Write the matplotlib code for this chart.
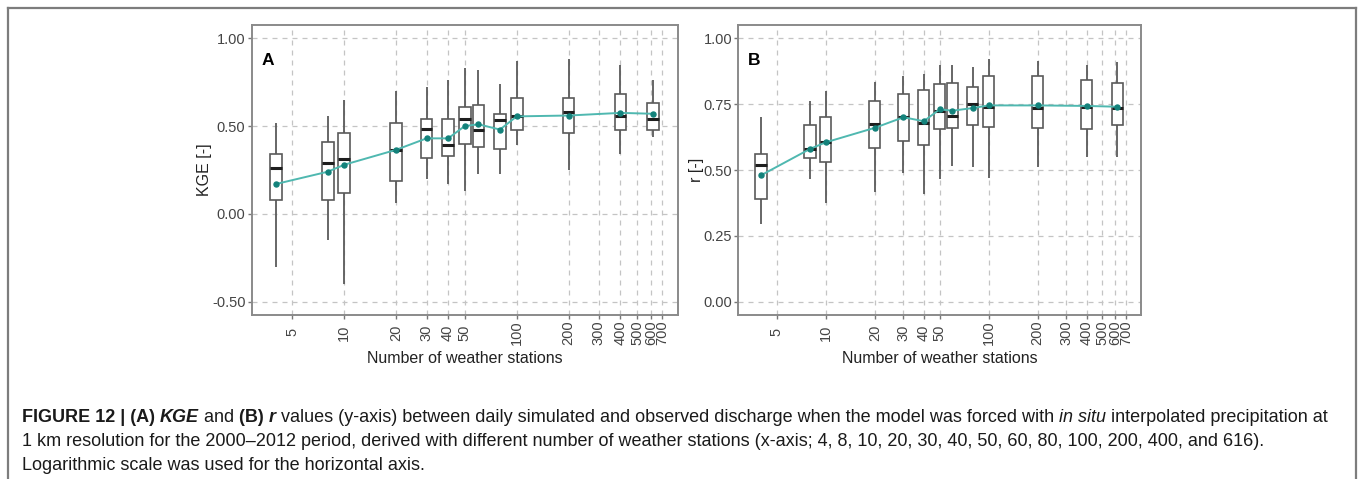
import numpy as np
import matplotlib
matplotlib.use("Agg")
from matplotlib import pyplot as plt
from matplotlib.lines import Line2D

plt.rcParams['font.family'] = ['Liberation Sans', 'DejaVu Sans']

# number of weather stations used for each run
stations = [4, 8, 10, 20, 30, 40, 50, 60, 80, 100, 200, 400, 616]

# KGE distribution per run: whisker ends, quartiles, median and mean
kge_lo   = [-0.30, -0.15, -0.40, 0.06, 0.20, 0.17, 0.13, 0.23, 0.23, 0.39, 0.25, 0.34, 0.44]
kge_q1   = [0.08, 0.08, 0.12, 0.19, 0.32, 0.33, 0.40, 0.38, 0.37, 0.48, 0.46, 0.48, 0.48]
kge_med  = [0.26, 0.29, 0.31, 0.365, 0.485, 0.39, 0.54, 0.48, 0.535, 0.555, 0.58, 0.555, 0.54]
kge_q3   = [0.34, 0.41, 0.46, 0.52, 0.54, 0.54, 0.61, 0.62, 0.57, 0.66, 0.66, 0.68, 0.63]
kge_hi   = [0.52, 0.56, 0.65, 0.70, 0.72, 0.76, 0.83, 0.82, 0.74, 0.87, 0.88, 0.85, 0.76]
kge_mean = [0.17, 0.24, 0.28, 0.365, 0.43, 0.43, 0.50, 0.51, 0.48, 0.555, 0.56, 0.575, 0.57]

# correlation coefficient r per run
r_lo   = [0.295, 0.465, 0.375, 0.415, 0.49, 0.41, 0.465, 0.515, 0.51, 0.47, 0.51, 0.55, 0.55]
r_q1   = [0.39, 0.545, 0.53, 0.585, 0.61, 0.595, 0.655, 0.66, 0.67, 0.665, 0.66, 0.655, 0.67]
r_med  = [0.52, 0.58, 0.605, 0.675, 0.70, 0.68, 0.725, 0.705, 0.75, 0.74, 0.735, 0.74, 0.735]
r_q3   = [0.56, 0.67, 0.70, 0.76, 0.79, 0.805, 0.825, 0.83, 0.815, 0.855, 0.855, 0.84, 0.83]
r_hi   = [0.70, 0.76, 0.80, 0.835, 0.855, 0.865, 0.90, 0.90, 0.89, 0.92, 0.915, 0.90, 0.91]
r_mean = [0.48, 0.58, 0.605, 0.66, 0.70, 0.685, 0.73, 0.725, 0.735, 0.745, 0.745, 0.743, 0.74]

xticks = [5, 10, 20, 30, 40, 50, 100, 200, 300, 400, 500, 600, 700]

GRID = '#c4c4c4'
EDGE = '#5a5a5a'
LINE = '#4fb8b0'
DOT = '#13827b'

W, H = 1358, 479
fig = plt.figure(figsize=(W / 100, H / 100), dpi=100)


def boxpanel(ax, lo, q1, med, q3, hi, mean, yticks, ylim, ylabel, tag):
    pos = np.array(stations, dtype=float)
    half = 10 ** 0.034
    left, right = pos / half, pos * half
    ax.vlines(pos, lo, q1, color=EDGE, lw=1.3, zorder=2)
    ax.vlines(pos, q3, hi, color=EDGE, lw=1.3, zorder=2)
    ax.bar(left, np.array(q3) - np.array(q1), width=right - left, bottom=q1,
           align='edge', facecolor='white', edgecolor=EDGE, lw=1.2, zorder=3)
    ax.hlines(med, left, right, color='#1e1e1e', lw=2.2, zorder=4)
    ax.plot(stations, mean, color=LINE, lw=1.4, zorder=5)
    ax.plot(stations, mean, 'o', ms=3.6, color=DOT, zorder=6)

    ax.set_xscale('log')
    ax.set_xlim(2.9, 860)
    ax.set_ylim(*ylim)
    ax.set_xticks(xticks)
    ax.set_xticklabels([str(t) for t in xticks], rotation=90)
    ax.xaxis.set_minor_locator(matplotlib.ticker.NullLocator())
    ax.set_yticks(yticks)
    ax.set_yticklabels(['%.2f' % t for t in yticks])
    for lab in ax.get_xticklabels():
        lab.set_va('center')
    ax.tick_params(axis='x', length=3, width=1, color='#777777', pad=9.5,
                   labelsize=10.5, labelcolor='#444444')
    ax.tick_params(axis='y', length=3, width=1, color='#777777', pad=1.5,
                   labelsize=10.5, labelcolor='#444444')
    ax.grid(True, color=GRID, lw=0.9, linestyle=(0, (4, 4)), zorder=0)
    ax.set_axisbelow(True)
    for s in ax.spines.values():
        s.set_color('#8a8a8a')
        s.set_linewidth(1.4)
    ax.set_xlabel('Number of weather stations', fontsize=11.5, color='#222222')
    ax.xaxis.set_label_coords(0.5, -0.125)
    ax.xaxis.label.set_va('top')
    ax.set_ylabel(ylabel, fontsize=11.5, color='#222222')
    ax.text(0.023, 0.878, tag, transform=ax.transAxes, fontsize=12.5,
            fontweight='bold', ha='left', va='center', color='black')


top = 1 - 25 / H
hgt = 290 / H
axA = fig.add_axes([251.7 / W, top - hgt, 426 / W, hgt])
axB = fig.add_axes([738.3 / W, top - hgt, 402.4 / W, hgt])
boxpanel(axA, kge_lo, kge_q1, kge_med, kge_q3, kge_hi, kge_mean,
         [-0.5, 0.0, 0.5, 1.0], (-0.575, 1.075), 'KGE [-]', 'A')
boxpanel(axB, r_lo, r_q1, r_med, r_q3, r_hi, r_mean,
         [0.0, 0.25, 0.5, 0.75, 1.0], (-0.05, 1.05), 'r [-]', 'B')
axA.yaxis.set_label_coords(-0.093, 0.5)
axB.yaxis.set_label_coords(-0.086, 0.5)

# caption box: top, left and right rules
fx0, fx1, fy = 7.5 / W, 1355.5 / W, 1 - 7.5 / H
for xs, ys in [((fx0, fx1), (fy, fy)), ((fx0, fx0), (fy, -0.02)), ((fx1, fx1), (fy, -0.02))]:
    fig.add_artist(Line2D(xs, ys, color='#7d7d7d', lw=1.6, transform=fig.transFigure))

renderer = fig.canvas.get_renderer()
CAP = 13.0


def run_width(s, **kw):
    a = fig.text(0, 0, '|' + s + '|', fontsize=CAP, **kw)
    b = fig.text(0, 0, '||', fontsize=CAP, **kw)
    w = a.get_window_extent(renderer).width - b.get_window_extent(renderer).width
    a.remove()
    b.remove()
    return w


def caption_line(y, runs):
    x = 22.0
    for s, kw in runs:
        fig.text(x / W, 1 - y / H, s, fontsize=CAP, va='center', ha='left',
                 color='#1a1a1a', **kw)
        x += run_width(s, **kw)


B = dict(fontweight='bold')
BI = dict(fontweight='bold', fontstyle='italic')
N = dict()
I = dict(fontstyle='italic')

caption_line(418, [
    ('FIGURE 12 | (A) ', B), ('KGE', BI), (' and ', N), ('(B) ', B), ('r', BI),
    (' values (y-axis) between daily simulated and observed discharge when the model was forced with ', N),
    ('in situ', I), (' interpolated precipitation at', N)])
caption_line(442, [
    ('1 km resolution for the 2000\u20132012 period, derived with different number of weather stations '
     '(x-axis; 4, 8, 10, 20, 30, 40, 50, 60, 80, 100, 200, 400, and 616).', N)])
caption_line(465, [('Logarithmic scale was used for the horizontal axis.', N)])

fig.savefig('out.png', dpi=100)
